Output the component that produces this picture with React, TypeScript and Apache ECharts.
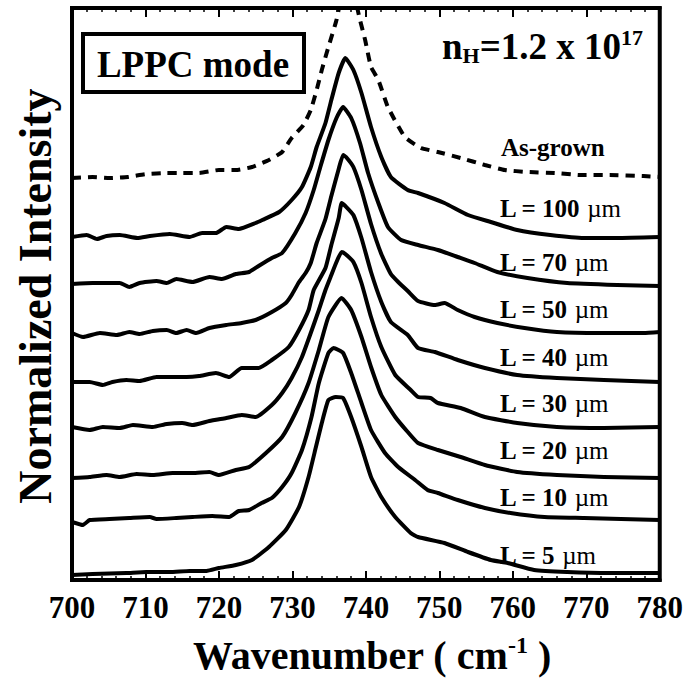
import React, { useEffect, useRef } from "react";
import * as echarts from "echarts";

// x: wavenumber (cm^-1), y: intensity (arbitrary units, offset stack)
const asGrown: [number, number][] = [
  [700.0, 402], [702.8, 403], [705.1, 402], [707.6, 403], [710.1, 406], [712.9, 407], [715.0, 407],
  [717.3, 407], [720.0, 410], [722.3, 410], [724.5, 413], [726.8, 420], [728.6, 428], [729.9, 442],
  [731.5, 455], [732.5, 470], [733.3, 490], [734.0, 510], [734.9, 533], [736.0, 560], [737.5, 610],
  [739.2, 560], [739.9, 540], [740.7, 513], [741.7, 500], [743.0, 473], [745.3, 443], [747.5, 432],
  [749.8, 428], [752.9, 422], [756.2, 415], [758.9, 410], [762.0, 408], [765.7, 407], [769.2, 405],
  [773.2, 405], [777.8, 404], [780.0, 403],
];

const L100: [number, number][] = [
  [700.0, 343], [702.0, 345], [703.4, 341], [704.7, 344], [706.5, 345], [708.9, 342], [710.6, 344],
  [713.3, 346], [716.0, 343], [717.7, 347], [719.6, 347], [721.0, 353], [722.7, 351], [725.0, 357],
  [725.9, 360], [728.2, 368], [729.9, 380], [731.3, 393], [732.5, 413], [733.3, 433], [734.5, 457],
  [735.3, 480], [736.3, 507], [737.2, 522], [738.3, 510], [739.4, 487], [740.7, 453], [742.1, 423],
  [743.4, 403], [745.7, 390], [747.1, 387], [750.7, 377], [753.9, 365], [757.0, 358], [760.6, 350],
  [765.1, 345], [769.7, 342], [774.2, 342], [780.0, 343],
];

const L70: [number, number][] = [
  [700.0, 296], [702.8, 297], [706.5, 297], [707.8, 293], [709.2, 297], [711.5, 299], [712.9, 297],
  [714.2, 301], [716.4, 298], [718.7, 303], [720.4, 301], [722.3, 306], [724.1, 308], [725.4, 314],
  [727.2, 322], [728.6, 327], [730.4, 347], [731.8, 367], [732.9, 390], [733.8, 413], [734.9, 440],
  [736.0, 462], [736.9, 473], [738.0, 462], [739.2, 437], [740.3, 407], [741.7, 377], [743.0, 353],
  [744.8, 340], [747.1, 335], [749.8, 330], [752.5, 323], [754.8, 317], [757.9, 308], [762.0, 302],
  [767.4, 297], [774.2, 295], [780.0, 294],
];

const L50: [number, number][] = [
  [700.0, 247], [701.5, 243], [703.8, 247], [706.1, 245], [707.8, 248], [709.2, 246], [711.0, 249],
  [712.9, 250], [714.2, 247], [715.6, 250], [716.9, 247], [718.7, 252], [721.0, 255], [723.1, 257],
  [725.0, 260], [727.2, 268], [729.1, 277], [729.9, 285], [730.9, 298], [731.8, 307], [732.5, 317],
  [733.3, 337], [734.5, 361], [735.3, 384], [736.3, 411], [736.9, 425], [737.3, 423], [738.3, 413],
  [739.4, 390], [740.7, 356], [742.1, 326], [743.4, 306], [744.4, 298], [745.7, 289], [747.1, 279],
  [749.4, 275], [750.7, 277], [752.5, 270], [754.8, 263], [757.9, 257], [761.6, 252], [766.0, 248],
  [771.9, 247], [777.8, 247], [780.0, 248],
];

const L40: [number, number][] = [
  [700.0, 198], [702.4, 198], [704.2, 195], [705.5, 198], [707.4, 200], [709.2, 199], [711.5, 203],
  [713.3, 203], [715.6, 203], [717.3, 204], [719.6, 207], [721.4, 203], [723.1, 212], [725.4, 212],
  [727.2, 220], [729.5, 233], [730.9, 250], [732.2, 270], [732.9, 290], [734.5, 312], [735.3, 335],
  [736.3, 362], [736.7, 377], [737.2, 374], [738.3, 365], [739.4, 342], [740.7, 308], [742.1, 278],
  [743.4, 258], [745.7, 245], [747.1, 232], [749.4, 228], [752.5, 220], [756.2, 212], [760.6, 205],
  [766.0, 202], [772.4, 200], [780.0, 198],
];

const L30: [number, number][] = [
  [700.0, 153], [702.4, 150], [704.2, 153], [706.5, 152], [708.3, 155], [711.0, 153], [712.9, 156],
  [715.0, 157], [716.4, 155], [718.7, 159], [721.0, 162], [723.1, 165], [725.0, 163], [727.2, 175],
  [728.6, 187], [729.9, 202], [731.3, 223], [732.5, 247], [733.6, 270], [734.5, 290], [735.3, 305],
  [736.0, 318], [736.7, 328], [737.2, 326], [738.3, 318], [739.4, 297], [740.7, 263], [742.1, 233],
  [744.0, 205], [746.1, 190], [747.1, 183], [748.8, 182], [749.8, 177], [752.9, 172], [756.2, 163],
  [760.6, 157], [766.0, 153], [772.4, 152], [780.0, 153],
];

const L20: [number, number][] = [
  [700.0, 102], [702.4, 103], [704.7, 105], [706.5, 103], [708.8, 106], [711.0, 105], [713.7, 107],
  [716.4, 107], [718.7, 108], [720.0, 105], [722.3, 110], [724.1, 113], [726.4, 127], [728.6, 143],
  [730.4, 167], [732.2, 197], [733.6, 230], [734.9, 263], [736.7, 282], [738.0, 270], [739.4, 243],
  [740.7, 213], [742.1, 185], [744.0, 163], [745.7, 148], [747.1, 137], [749.8, 130], [752.9, 123],
  [756.2, 115], [760.6, 108], [766.0, 105], [772.4, 103], [780.0, 102],
];

const L10: [number, number][] = [
  [700.0, 58], [701.5, 55], [702.4, 60], [705.1, 61], [707.8, 62], [710.6, 63], [711.5, 61],
  [714.2, 62], [716.4, 63], [719.1, 64], [721.4, 63], [722.7, 69], [724.1, 70], [725.8, 77],
  [727.2, 82], [728.6, 93], [729.9, 107], [731.3, 130], [732.6, 163], [733.6, 197], [734.9, 227],
  [735.6, 232], [736.9, 227], [738.0, 207], [739.4, 177], [740.7, 150], [742.6, 127], [744.4, 113],
  [746.7, 100], [748.4, 90], [749.8, 87], [752.5, 80], [756.2, 72], [759.7, 67], [764.3, 63],
  [769.7, 62], [780.0, 60],
];

const L5: [number, number][] = [
  [700.0, 5], [702.8, 6], [707.4, 7], [710.1, 8], [713.3, 8], [716.0, 9], [718.3, 9], [720.0, 12],
  [722.3, 15], [724.5, 20], [726.8, 33], [729.1, 50], [730.9, 73], [732.2, 103], [733.2, 133],
  [734.0, 157], [734.9, 180], [735.9, 183], [736.9, 182], [738.0, 163], [739.4, 133], [740.7, 103],
  [742.1, 83], [744.0, 63], [746.1, 47], [747.1, 43], [750.7, 37], [753.9, 28], [757.0, 20],
  [759.3, 17], [762.9, 10], [767.4, 8], [773.2, 7], [780.0, 7],
];

const solidSeries: { name: string; data: [number, number][] }[] = [
  { name: "L = 100 µm", data: L100 },
  { name: "L = 70 µm", data: L70 },
  { name: "L = 50 µm", data: L50 },
  { name: "L = 40 µm", data: L40 },
  { name: "L = 30 µm", data: L30 },
  { name: "L = 20 µm", data: L20 },
  { name: "L = 10 µm", data: L10 },
  { name: "L = 5 µm", data: L5 },
];

const lengthLabels = ["100", "70", "50", "40", "30", "20", "10", "5"];
const labelTops = [208, 262, 309, 357, 403, 450, 497, 555];

const FONT = "'Liberation Serif', 'Times New Roman', serif";

export default function App() {
  const ref = useRef<HTMLDivElement>(null);
  useEffect(() => {
    document.body.style.margin = "0";
    if (!ref.current) return;
    const chart = echarts.init(ref.current, null, { renderer: "svg" });
    const lineSeries: any[] = solidSeries.map((s) => ({
      type: "line",
      name: s.name,
      data: s.data,
      showSymbol: false,
      smooth: 0.15,
      clip: true,
      lineStyle: { color: "#000", width: 4, join: "round" },
      silent: true,
    }));
    lineSeries.unshift({
      type: "line",
      name: "As-grown",
      data: asGrown,
      showSymbol: false,
      smooth: 0.15,
      clip: true,
      lineStyle: { color: "#000", width: 4, type: [9, 7] },
      silent: true,
    });

    const graphics: any[] = [
      {
        type: "rect",
        shape: { x: 83, y: 34, width: 221, height: 58 },
        style: { fill: "#fff", stroke: "#000", lineWidth: 4 },
        z: 100,
      },
      {
        type: "text",
        x: 193,
        y: 64,
        style: {
          text: "LPPC mode",
          font: `bold 37px ${FONT}`,
          fill: "#000",
          align: "center",
          verticalAlign: "middle",
        },
        z: 101,
      },
      {
        type: "text",
        x: 643,
        y: 46,
        style: {
          text: "{b|n}{s|H}{b|=1.2 x 10}{p|17}",
          align: "right",
          verticalAlign: "middle",
          rich: {
            b: { font: `bold 37px ${FONT}`, fill: "#000", lineHeight: 40, verticalAlign: "middle" },
            s: { font: `bold 22px ${FONT}`, fill: "#000", lineHeight: 22, verticalAlign: "bottom" },
            p: { font: `bold 22px ${FONT}`, fill: "#000", lineHeight: 22, verticalAlign: "top" },
          },
        },
        z: 101,
      },
      {
        type: "text",
        x: 501,
        y: 147,
        style: {
          text: "As-grown",
          font: `bold 25px ${FONT}`,
          fill: "#000",
          align: "left",
          verticalAlign: "middle",
        },
        z: 101,
      },
      {
        type: "text",
        x: 35,
        y: 296,
        rotation: Math.PI / 2,
        style: {
          text: "Normalized Intensity",
          font: `bold 46px ${FONT}`,
          fill: "#000",
          align: "center",
          verticalAlign: "middle",
        },
      },
      {
        type: "text",
        x: 372,
        y: 655,
        style: {
          text: "{b|Wavenumber ( cm}{p|-1}{b| )}",
          align: "center",
          verticalAlign: "middle",
          rich: {
            b: { font: `bold 40px ${FONT}`, fill: "#000", lineHeight: 44, verticalAlign: "middle" },
            p: { font: `bold 24px ${FONT}`, fill: "#000", lineHeight: 26, verticalAlign: "top" },
          },
        },
      },
    ];
    lengthLabels.forEach((v, i) => {
      graphics.push({
        type: "text",
        x: 500,
        y: labelTops[i],
        style: {
          text: `{b|L = ${v}}{u| µm}`,
          align: "left",
          verticalAlign: "middle",
          rich: {
            b: { font: `bold 25px ${FONT}`, fill: "#000" },
            u: { font: `25px ${FONT}`, fill: "#000" },
          },
        },
        z: 101,
      });
    });

    const xCommon = {
      type: "value",
      min: 700,
      max: 780,
      interval: 10,
      axisLine: { show: true, lineStyle: { color: "#000", width: 4 } },
      axisTick: { show: true, inside: true, length: 9, lineStyle: { color: "#000", width: 2 } },
      minorTick: { show: true, splitNumber: 5, length: 4, lineStyle: { color: "#000", width: 1.5 } },
      splitLine: { show: false },
      minorSplitLine: { show: false },
    };

    chart.setOption({
      animation: false,
      backgroundColor: "#fff",
      grid: {
        left: 72,
        right: 23,
        top: 8,
        bottom: 109,
        show: true,
        borderColor: "#000",
        borderWidth: 4,
        backgroundColor: "transparent",
      },
      xAxis: [
        {
          ...xCommon,
          position: "bottom",
          axisLabel: {
            show: true,
            margin: 12,
            color: "#000",
            fontFamily: FONT,
            fontWeight: "bold",
            fontSize: 31,
          },
        },
        {
          ...xCommon,
          position: "top",
          axisLabel: { show: false },
        },
      ],
      yAxis: {
        type: "value",
        min: 0,
        max: 572,
        axisLine: { show: true, lineStyle: { color: "#000", width: 4 } },
        axisTick: { show: false },
        axisLabel: { show: false },
        splitLine: { show: false },
      },
      series: lineSeries,
      graphic: graphics,
    });
    return () => chart.dispose();
  }, []);
  return <div ref={ref} style={{ width: 686, height: 689 }} />;
}
